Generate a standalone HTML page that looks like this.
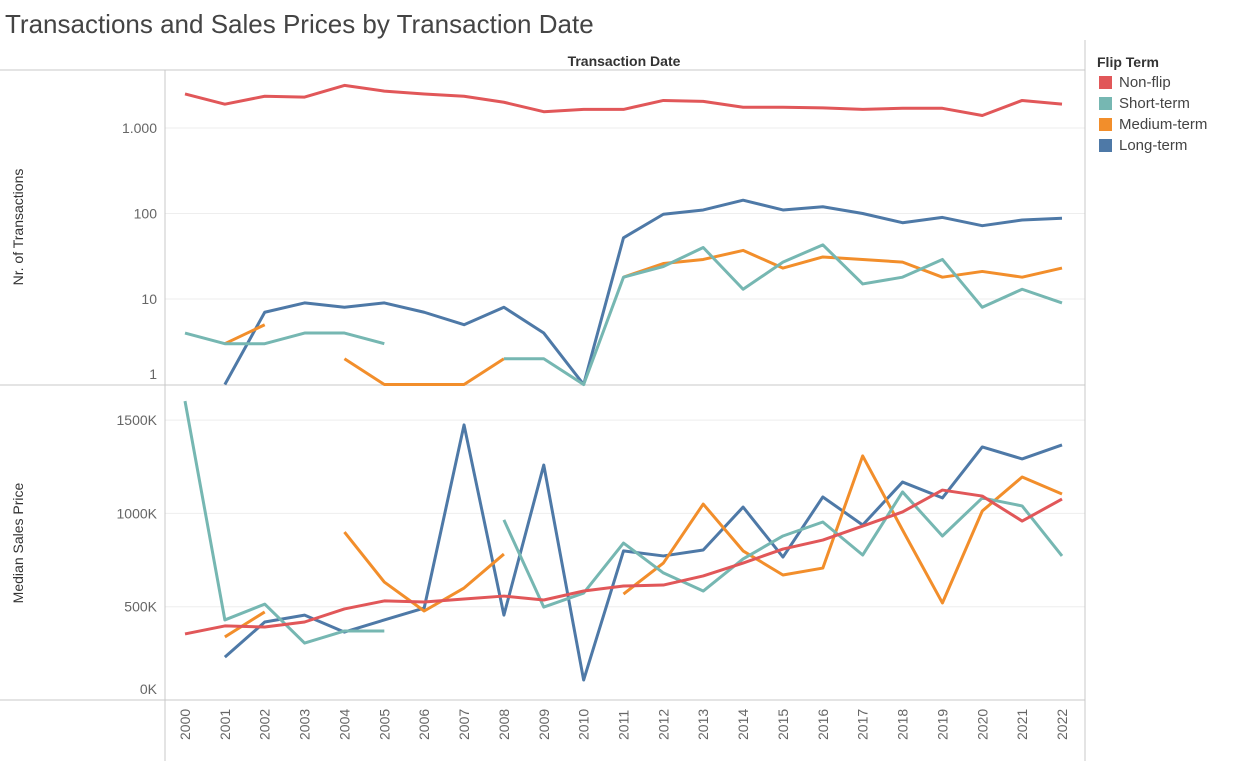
<!DOCTYPE html>
<html><head><meta charset="utf-8">
<style>
body{margin:0;background:#fff;width:1236px;height:761px;overflow:hidden;font-family:"Liberation Sans",sans-serif;}
</style></head>
<body>
<svg id="chart" width="1236" height="761" xmlns="http://www.w3.org/2000/svg" font-family="Liberation Sans, sans-serif">
<text x="5" y="33" font-size="26" fill="#444">Transactions and Sales Prices by Transaction Date</text>
<text x="624" y="66" font-size="14" font-weight="bold" fill="#333" text-anchor="middle">Transaction Date</text>
<g id="grid"></g>
<line x1="0" y1="70" x2="1085" y2="70" stroke="#c8c8c8"/>
<line x1="0" y1="385" x2="1085" y2="385" stroke="#c8c8c8"/>
<line x1="0" y1="700" x2="1085" y2="700" stroke="#c8c8c8"/>
<line x1="165" y1="70" x2="165" y2="761" stroke="#c8c8c8"/>
<line x1="1085" y1="40" x2="1085" y2="761" stroke="#c8c8c8"/>
<text transform="translate(23,227) rotate(-90)" font-size="14" fill="#333" text-anchor="middle">Nr. of Transactions</text>
<text transform="translate(23,543) rotate(-90)" font-size="14" fill="#333" text-anchor="middle">Median Sales Price</text>
<g id="ticks"></g>
<g id="lines"></g>
<g>
<text x="1097" y="67" font-size="14" font-weight="bold" fill="#333">Flip Term</text>
<g id="legend"></g>
</g>
</svg>
<script>
const years = [2000,2001,2002,2003,2004,2005,2006,2007,2008,2009,2010,2011,2012,2013,2014,2015,2016,2017,2018,2019,2020,2021,2022];
const countNonFlip = [2500,1900,2350,2300,3150,2700,2500,2350,2000,1550,1650,1650,2100,2050,1750,1750,1720,1650,1700,1700,1400,2100,1900];
const countShort = [4,3,3,4,4,3,null,null,2,2,1,18,24,40,13,27,43,15,18,29,8,13,9];
const countMedium = [null,3,5,null,2,1,1,1,2,null,null,18,26,29,37,23,31,29,27,18,21,18,23];
const countLong = [null,1,7,9,8,9,7,5,8,4,1,52,98,110,143,110,120,100,78,90,72,84,88];
const priceNonFlip = [354,397,391,418,488,531,525,541,557,536,584,611,616,665,734,809,857,932,1008,1125,1093,959,1077];
const priceShort = [1602,429,514,305,370,370,null,null,965,498,573,841,681,584,756,879,954,777,1115,879,1083,1040,772];
const priceMedium = [null,338,472,null,900,632,477,600,782,null,null,568,734,1050,799,670,707,1308,911,520,1013,1195,1104];
const priceLong = [null,230,418,455,364,429,493,1474,455,1259,107,799,772,804,1034,766,1088,938,1168,1083,1356,1292,1367];
const logTicks = [1,10,100,1000];
const logTickLabels = ["1","10","100","1.000"];
const priceTicks = [0,500,1000,1500];
const priceTickLabels = ["0K","500K","1000K","1500K"];
const seriesNames = ["Non-flip","Short-term","Medium-term","Long-term"];
const colors = ["#e15759","#76b7b2","#f28e2b","#4e79a7"];

const NS="http://www.w3.org/2000/svg";
const xS = y => 185 + (y-2000)*(877/22);
const yLog = v => 384.5 - 85.5*Math.log10(v);
const yPrice = v => 700 - v/500*93.3;
function mk(tag, attrs, parent){const e=document.createElementNS(NS,tag);for(const k in attrs)e.setAttribute(k,attrs[k]);parent.appendChild(e);return e;}
const grid=document.getElementById('grid'), ticks=document.getElementById('ticks'), lines=document.getElementById('lines'), legend=document.getElementById('legend');

logTicks.forEach((t,i)=>{
  const y=yLog(t);
  if(t>1){const g=mk('line',{x1:165,x2:1085,y1:y,y2:y,stroke:'#eeeeee'},grid);
  
  }
  const ty=Math.min(y+5,379);
  const tx=mk('text',{x:157,y:ty,'font-size':14,fill:'#666','text-anchor':'end'},ticks);
  tx.textContent=logTickLabels[i];
  
  
});
priceTicks.forEach((t,i)=>{
  const y=yPrice(t);
  if(t>0){const g=mk('line',{x1:165,x2:1085,y1:y,y2:y,stroke:'#eeeeee'},grid);
  
  }
  const ty=Math.min(y+5,694);
  const tx=mk('text',{x:157,y:ty,'font-size':14,fill:'#666','text-anchor':'end'},ticks);
  tx.textContent=priceTickLabels[i];
  
  
});
years.forEach(yr=>{
  const x=xS(yr);
  const tx=mk('text',{transform:`translate(${x+5},740) rotate(-90)`,'font-size':14,fill:'#666'},ticks);
  tx.textContent=String(yr);
  
  
});

function drawSeries(vals, yf, color, name){
  let seg=[];
  const segs=[];
  vals.forEach((v,i)=>{
    if(v===null){if(seg.length)segs.push(seg);seg=[];}
    else seg.push([xS(years[i]),yf(v)]);
  });
  if(seg.length)segs.push(seg);
  segs.forEach(s=>{
    if(s.length<2)return;
    const p=mk('polyline',{points:s.map(q=>q.join(',')).join(' '),fill:'none',stroke:color,'stroke-width':3,'stroke-linejoin':'round'},lines);
    
    
  });
}
const counts=[countNonFlip,countShort,countMedium,countLong];
const prices=[priceNonFlip,priceShort,priceMedium,priceLong];
const order=[3,2,1,0];
order.forEach(i=>drawSeries(counts[i],yLog,colors[i],'count-line-'+seriesNames[i].toLowerCase()));
order.forEach(i=>drawSeries(prices[i],yPrice,colors[i],'price-line-'+seriesNames[i].toLowerCase()));

seriesNames.forEach((n,i)=>{
  const y=82+i*21;
  const g=mk('g',{},legend);
  
  
  mk('rect',{x:1099,y:y-6,width:13,height:13,fill:colors[i]},g);
  const t=mk('text',{x:1119,y:y+5,'font-size':15,fill:'#444'},g);
  t.textContent=n;
});
</script>
</body></html>
